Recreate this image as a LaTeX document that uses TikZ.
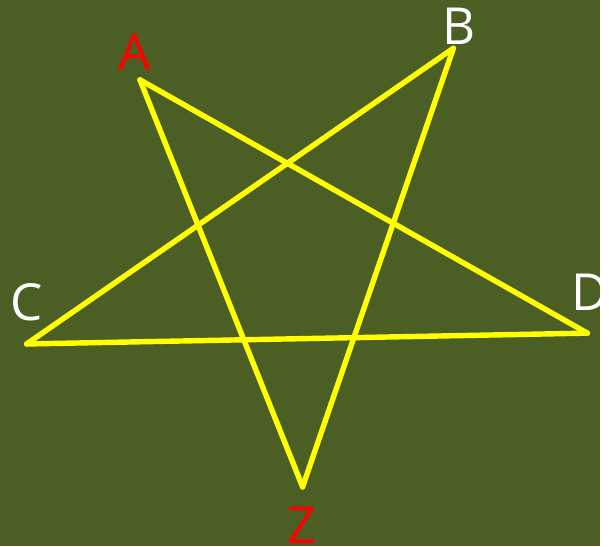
\documentclass[tikz,border=0pt]{standalone}
\usepackage{fontspec}
\setmainfont{Open Sans}
\usetikzlibrary{positioning}
\definecolor{olivebg}{HTML}{4B5E23}
\definecolor{staryellow}{HTML}{FFFF00}
\definecolor{labelred}{HTML}{FF0000}

\begin{document}
\begin{tikzpicture}[
    x=1bp, y=-1bp,
    edge/.style={draw=staryellow, line width=5.5bp, line cap=round, line join=round},
    vlabel/.style={inner sep=0pt, font=\fontsize{52}{60}\selectfont},
    redlabel/.style={vlabel, text=labelred},
    whitelabel/.style={vlabel, text=white},
]

% === Background ===
\fill[olivebg] (0,0) rectangle (609,554);

% === Star points ===
\coordinate (A) at (142,81);
\coordinate (B) at (460,49);
\coordinate (C) at (27,349);
\coordinate (D) at (596,338);
\coordinate (Z) at (307,494);

% === Edges ===
\draw[edge] (A) -- (D);
\draw[edge] (D) -- (C);
\draw[edge] (C) -- (B);
\draw[edge] (B) -- (Z);
\draw[edge] (Z) -- (A);

% === Labels ===
\node (labA) [redlabel] at (136.5,52.5) {A};
\node (labB) [whitelabel] at (466,27) {B};
\node (labC) [whitelabel] at (27.5,306.5) {C};
\node (labD) [whitelabel] at (599,296.5) {D};
\node (labZ) [redlabel] at (306.5,532.5) {Z};

\useasboundingbox (0,0) rectangle (609,554);
\end{tikzpicture}
\end{document}
